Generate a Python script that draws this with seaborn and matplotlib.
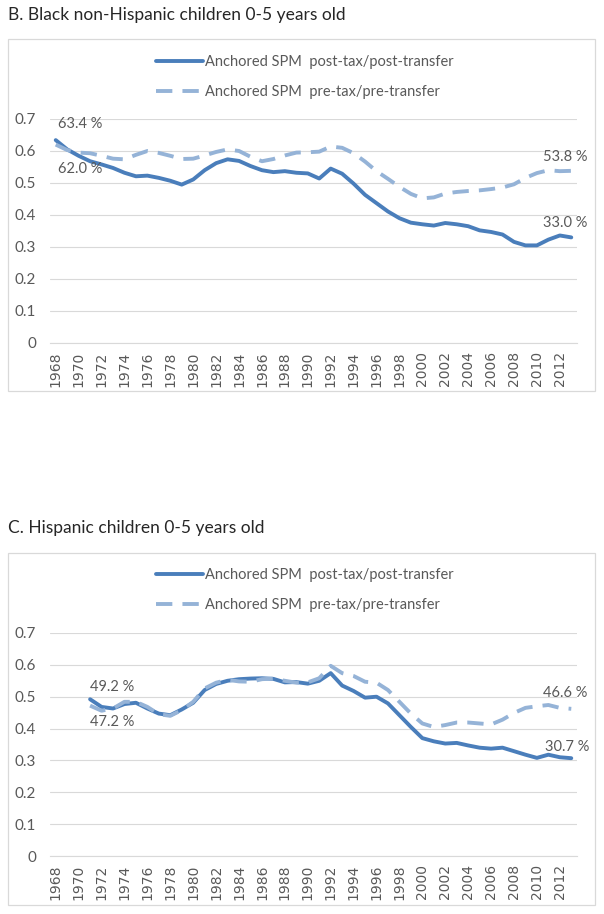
import pandas as pd
import matplotlib.pyplot as plt
import matplotlib.patches as mpatches
import seaborn as sns

# Datos (tasa de pobreza, fraccion)
years_b = list(range(1968, 2014))
black_post = [0.634, 0.605, 0.585, 0.568, 0.558, 0.547, 0.532, 0.521, 0.523, 0.516,
              0.507, 0.495, 0.511, 0.540, 0.562, 0.574, 0.569, 0.553, 0.540, 0.534,
              0.537, 0.532, 0.530, 0.514, 0.545, 0.529, 0.498, 0.463, 0.437, 0.411,
              0.390, 0.376, 0.371, 0.367, 0.375, 0.371, 0.365, 0.352, 0.347, 0.339,
              0.316, 0.305, 0.305, 0.323, 0.336, 0.330]
black_pre = [0.620, 0.603, 0.595, 0.593, 0.585, 0.576, 0.574, 0.588, 0.600, 0.594,
             0.585, 0.575, 0.576, 0.586, 0.597, 0.605, 0.600, 0.582, 0.568, 0.575,
             0.586, 0.595, 0.596, 0.598, 0.614, 0.610, 0.593, 0.567, 0.537, 0.513,
             0.488, 0.466, 0.452, 0.455, 0.467, 0.472, 0.475, 0.477, 0.481, 0.486,
             0.496, 0.516, 0.531, 0.540, 0.537, 0.538]

years_c = list(range(1971, 2014))
hisp_post = [0.492, 0.468, 0.463, 0.477, 0.481, 0.463, 0.447, 0.442, 0.460, 0.481,
             0.521, 0.540, 0.550, 0.555, 0.557, 0.558, 0.556, 0.545, 0.546, 0.541,
             0.550, 0.574, 0.535, 0.518, 0.497, 0.500, 0.479, 0.442, 0.405, 0.370,
             0.360, 0.353, 0.355, 0.347, 0.340, 0.337, 0.340, 0.329, 0.318, 0.308,
             0.318, 0.310, 0.307]
hisp_pre = [0.472, 0.456, 0.463, 0.484, 0.484, 0.468, 0.445, 0.440, 0.458, 0.484,
            0.526, 0.544, 0.553, 0.548, 0.547, 0.555, 0.557, 0.550, 0.544, 0.545,
            0.558, 0.597, 0.574, 0.565, 0.547, 0.544, 0.521, 0.484, 0.447, 0.416,
            0.405, 0.411, 0.419, 0.419, 0.416, 0.413, 0.428, 0.449, 0.465, 0.470,
            0.474, 0.465, 0.462]

label_post = "Anchored SPM  post-tax/post-transfer"
label_pre = "Anchored SPM  pre-tax/pre-transfer"
y_ticks = [0, 0.1, 0.2, 0.3, 0.4, 0.5, 0.6, 0.7]
y_labels = ["0", "0.1", "0.2", "0.3", "0.4", "0.5", "0.6", "0.7"]
x_ticks = list(range(1968, 2013, 2))

sns.set_style("white")
plt.rcParams['font.family'] = ['Lato', 'DejaVu Sans']

W, H = 604, 914
fig = plt.figure(figsize=(W / 100, H / 100), dpi=100)

text_col = "#595959"
grid_col = "#d9d9d9"
col_post = "#4a7ebb"
col_pre = "#95b3d7"


def px_axes(left, right, top, bottom):
    return fig.add_axes([left / W, 1 - bottom / H, (right - left) / W, (bottom - top) / H])


def draw_panel(title, title_y, box_top, box_bottom, ax_top, ax_bottom, leg_y,
               years, post, pre, notes):
    # marco del panel
    fig.patches.append(mpatches.Rectangle((8 / W, 1 - box_bottom / H), 587 / W,
                                          (box_bottom - box_top) / H,
                                          transform=fig.transFigure, fill=False,
                                          edgecolor=grid_col, lw=0.9))
    fig.text(8 / W, 1 - title_y / H, title, fontsize=12.5, color="#262626",
             ha="left", va="center")

    ax = px_axes(50, 577, ax_top, ax_bottom)
    df = pd.DataFrame({"year": years, "post": post, "pre": pre})
    sns.lineplot(data=df, x="year", y="post", ax=ax, color=col_post, lw=2.8,
                 label=label_post, solid_capstyle="round")
    sns.lineplot(data=df, x="year", y="pre", ax=ax, color=col_pre, lw=2.8,
                 label=label_pre, linestyle=(0, (4.2, 2.6)))

    ax.set_xlim(1967.5, 2013.5)
    ax.set_ylim(0, 0.7)
    ax.set_yticks(y_ticks)
    ax.set_yticklabels(y_labels, fontsize=11, color=text_col)
    ax.set_xticks(x_ticks)
    ax.set_xticklabels([str(y) for y in x_ticks], rotation=90, fontsize=10,
                       color=text_col, family="DejaVu Sans")
    ax.set_xticks([y + 0.5 for y in range(1967, 2014)], minor=True)
    ax.tick_params(axis="x", which="major", length=0, pad=6)
    ax.tick_params(axis="x", which="minor", length=3, color=grid_col, direction="inout")
    ax.tick_params(axis="y", length=0, pad=10)
    ax.grid(axis="y", color=grid_col, lw=0.8)
    ax.set_axisbelow(True)
    for s in ["top", "right", "left"]:
        ax.spines[s].set_visible(False)
    ax.spines["bottom"].set_color(grid_col)
    ax.set_xlabel("")
    ax.set_ylabel("")

    leg = ax.legend(loc="center", bbox_to_anchor=(305 / W, 1 - leg_y / H),
                    bbox_transform=fig.transFigure, frameon=False, fontsize=10.5,
                    handlelength=3.2, handletextpad=0.2, labelspacing=1.05)
    for t in leg.get_texts():
        t.set_color(text_col)

    for (yr, val, dx, dy, txt) in notes:
        ax.annotate(txt, xy=(yr, val), xytext=(dx, -dy), textcoords="offset pixels",
                    ha="center", va="center", fontsize=10.5, color=text_col)
    return ax


notes_b = [(1968, black_post[0], 24, -16, "63.4 %"),
           (1968, black_pre[0], 24, 24, "62.0 %"),
           (2013, black_pre[-1], -6, -14, "53.8 %"),
           (2013, black_post[-1], -6, -14, "33.0 %")]
notes_c = [(1971, hisp_post[0], 22, -12, "49.2 %"),
           (1971, hisp_pre[0], 22, 16, "47.2 %"),
           (2013, hisp_pre[-1], -6, -16, "46.6 %"),
           (2013, hisp_post[-1], -4, -11, "30.7 %")]

draw_panel("B. Black non-Hispanic children 0-5 years old", 15, 39, 391, 119, 343, 77,
           years_b, black_post, black_pre, notes_b)
draw_panel("C. Hispanic children 0-5 years old", 528, 553, 905, 633, 856, 590,
           years_c, hisp_post, hisp_pre, notes_c)

fig.savefig("out.png", dpi=100)
